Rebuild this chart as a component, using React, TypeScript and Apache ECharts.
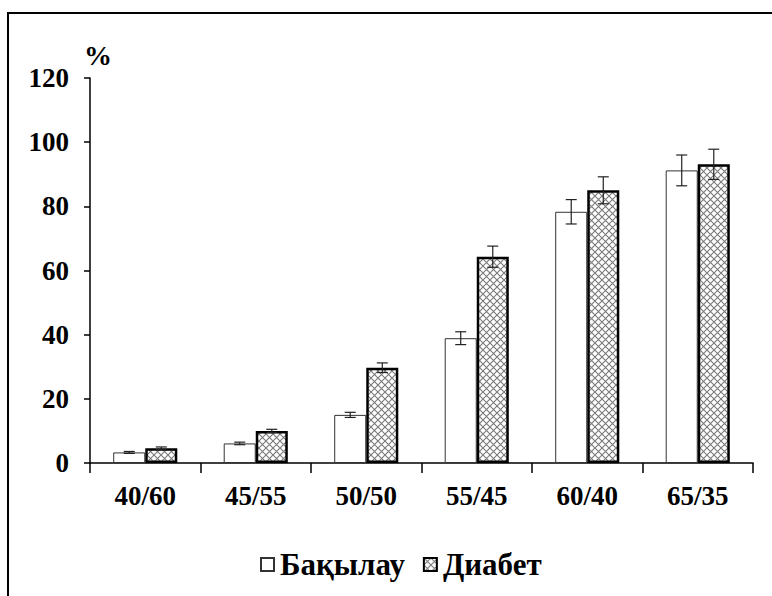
import React, { useEffect, useRef } from "react";
import * as echarts from "echarts";

const categories = ["40/60", "45/55", "50/50", "55/45", "60/40", "65/35"];
const controlValues = [3.3, 6.1, 15.0, 38.9, 78.3, 91.2];
const controlErrors = [0.3, 0.4, 0.8, 2.0, 3.8, 4.8];
const diabetesValues = [4.6, 10.0, 29.7, 64.3, 85.0, 93.1];
const diabetesErrors = [0.4, 0.5, 1.5, 3.3, 4.2, 4.7];
const seriesNames = ["Бақылау", "Диабет"];
const yTicks = { min: 0, max: 120, interval: 20 };

const FONT = "'Liberation Serif', 'Times New Roman', serif";
const BAR_FRAC = 0.29;

function makeHatch(): HTMLCanvasElement {
  const c = document.createElement("canvas");
  const s = 7;
  c.width = s;
  c.height = s;
  const ctx = c.getContext("2d")!;
  ctx.fillStyle = "#ffffff";
  ctx.fillRect(0, 0, s, s);
  ctx.strokeStyle = "#7a7a7a";
  ctx.lineWidth = 1.1;
  ctx.beginPath();
  ctx.moveTo(-1, -1);
  ctx.lineTo(s + 1, s + 1);
  ctx.moveTo(s + 1, -1);
  ctx.lineTo(-1, s + 1);
  ctx.stroke();
  return c;
}

export default function App() {
  const ref = useRef<HTMLDivElement>(null);
  useEffect(() => {
    document.body.style.margin = "0";
    if (!ref.current) return;
    const chart = echarts.init(ref.current, undefined, { renderer: "svg" });
    const hatch = makeHatch();

    const errorSeries = (vals: number[], errs: number[], side: number) => ({
      type: "custom",
      silent: true,
      z: 10,
      data: vals.map((v, i) => [i, v, errs[i]]),
      renderItem: (params: any, api: any) => {
        const i = api.value(0);
        const v = api.value(1);
        const e = api.value(2);
        const band = api.size([1, 0])[0];
        const bw = band * BAR_FRAC;
        const c = api.coord([i, v]);
        const x = c[0] + side * bw / 2;
        const top = api.coord([i, v + e])[1];
        const bot = api.coord([i, v - e])[1];
        const cap = 5.5;
        const style = { stroke: "#222", lineWidth: 1.2 };
        return {
          type: "group",
          children: [
            { type: "line", shape: { x1: x, y1: top, x2: x, y2: bot }, style },
            { type: "line", shape: { x1: x - cap, y1: top, x2: x + cap, y2: top }, style },
            { type: "line", shape: { x1: x - cap, y1: bot, x2: x + cap, y2: bot }, style },
          ],
        };
      },
    });

    chart.setOption({
      animation: false,
      backgroundColor: "#ffffff",
      grid: { left: 90, right: 19, top: 78, bottom: 133, containLabel: false },
      legend: {
        top: 549,
        left: 260,
        padding: 0,
        itemWidth: 13,
        itemHeight: 13,
        itemGap: 18,
        icon: "rect",
        data: seriesNames,
        textStyle: { fontFamily: FONT, fontWeight: "bold", fontSize: 31, color: "#000", padding: [0, 0, 0, 1] },
      },
      xAxis: {
        type: "category",
        data: categories,
        axisLine: { lineStyle: { color: "#000", width: 1.5 } },
        axisTick: { show: true, length: 10, lineStyle: { color: "#000", width: 1.5 } },
        axisLabel: { fontFamily: FONT, fontWeight: "bold", fontSize: 27, color: "#000", margin: 19 },
      },
      yAxis: {
        type: "value",
        min: yTicks.min,
        max: yTicks.max,
        interval: yTicks.interval,
        splitLine: { show: false },
        axisLine: { show: true, lineStyle: { color: "#000", width: 1.5 } },
        axisTick: { show: true, length: 6, lineStyle: { color: "#000", width: 1.5 } },
        axisLabel: { fontFamily: FONT, fontWeight: "bold", fontSize: 27, color: "#000", margin: 21 },
      },
      graphic: [
        {
          type: "rect",
          shape: { x: 8, y: 13, width: 800, height: 640 },
          style: { fill: "none", stroke: "#000", lineWidth: 2 },
          z: 100,
        },
        {
          type: "text",
          x: 84,
          y: 55,
          style: {
            text: "%",
            fontFamily: FONT,
            fontWeight: "bold",
            fontSize: 28,
            fill: "#000",
            verticalAlign: "middle",
          },
        },
      ],
      series: [
        {
          name: seriesNames[0],
          type: "bar",
          data: controlValues,
          barWidth: `${BAR_FRAC * 100}%`,
          barGap: "0%",
          itemStyle: { color: "#ffffff", borderColor: "#333", borderWidth: 1 },
        },
        {
          name: seriesNames[1],
          type: "bar",
          data: diabetesValues,
          barWidth: `${BAR_FRAC * 100}%`,
          barGap: "0%",
          itemStyle: { color: { image: hatch, repeat: "repeat" }, borderColor: "#000", borderWidth: 2.5 },
        },
        errorSeries(controlValues, controlErrors, -1),
        errorSeries(diabetesValues, diabetesErrors, 1),
      ],
    });
    return () => chart.dispose();
  }, []);
  return <div ref={ref} style={{ position: "fixed", left: 0, top: 0, width: 772, height: 596 }} />;
}
